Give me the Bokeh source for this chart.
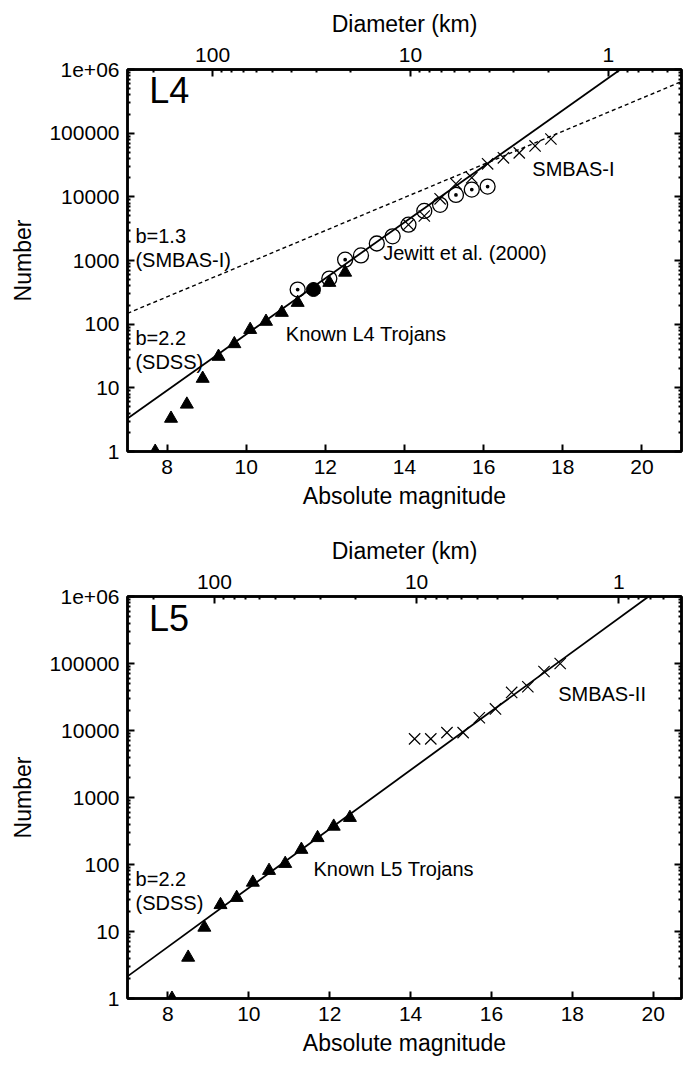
import numpy as np
from bokeh.plotting import figure
from bokeh.layouts import column
from bokeh.models import LinearAxis, LogAxis, FixedTicker, CustomJSTickFormatter, Range1d
from bokeh.core.properties import value
from bokeh.embed import file_html
from bokeh.resources import INLINE

# ---------------- data ----------------
# L4 panel
l4_known_H = [7.7, 8.1, 8.5, 8.9, 9.3, 9.7, 10.1, 10.5, 10.9, 11.3, 11.7, 12.1, 12.5]
l4_known_N = [1, 3.3, 5.5, 14, 31, 49, 82, 110, 152, 218, 350, 450, 650]
# Jewitt et al. (2000): plain open circles, dotted circles, and one filled point
jewitt_open_H = [12.1, 12.9, 13.3, 13.7, 14.1, 14.5, 14.9]
jewitt_open_N = [520, 1200, 1850, 2400, 3650, 6000, 7500]
jewitt_dot_H = [11.3, 12.5, 15.3, 15.7, 16.1]
jewitt_dot_N = [350, 1030, 10700, 13000, 14500]
jewitt_filled_H = [11.7]
jewitt_filled_N = [350]
smbas1_H = [14.1, 14.5, 14.9, 15.3, 15.7, 16.1, 16.5, 16.9, 17.3, 17.7]
smbas1_N = [3650, 5000, 9300, 16000, 20000, 33000, 41000, 49000, 63000, 81000]
# L5 panel
l5_known_H = [8.1, 8.5, 8.9, 9.3, 9.7, 10.1, 10.5, 10.9, 11.3, 11.7, 12.1, 12.5]
l5_known_N = [1, 4.1, 11.5, 25, 32, 54, 81, 103, 167, 250, 370, 500]
smbas2_H = [14.1, 14.5, 14.9, 15.3, 15.7, 16.1, 16.5, 16.9, 17.3, 17.7]
smbas2_N = [7500, 7500, 9300, 9300, 15500, 21000, 37000, 45000, 76000, 100000]

# power-law fits: slope b, and log10(N) at H = 7
l4_sdss_b, l4_sdss_logN7 = 2.2, 0.52
l4_smbas_b, l4_smbas_logN7 = 1.3, 2.17
l5_sdss_b, l5_sdss_logN7 = 2.2, 0.33

# axes
x_ticks = [8, 10, 12, 14, 16, 18, 20]
y_major = [1, 10, 100, 1000, 10000, 100000, 1000000]
diam_major_km = [100, 10, 1]
diam_minor_km = [200, 90, 80, 70, 60, 50, 40, 30, 20, 9, 8, 7, 6, 5, 4, 3, 2,
                 0.9, 0.8, 0.7, 0.6, 0.5]
H_at_1km = 19.15

FONT = "Liberation Sans"
TICK_FS = "21px"
LABEL_FS = "23px"
ANN_FS = "20px"


def H_of_D(d):
    return H_at_1km - 5 * np.log10(d)


def fit_line(b, logN7, xmax):
    slope = b / 5.0
    h_end = min(xmax, 7 + (6 - logN7) / slope)
    hs = [7.0, h_end]
    ns = [10 ** (logN7 + slope * (h - 7)) for h in hs]
    return hs, ns


def style_axis(ax):
    ax.axis_line_width = 2.5
    ax.axis_line_color = "black"
    ax.major_tick_in = 7
    ax.major_tick_out = 0
    ax.minor_tick_in = 3
    ax.minor_tick_out = 0
    ax.major_tick_line_width = 2
    ax.minor_tick_line_width = 2
    ax.major_label_text_font = FONT
    ax.major_label_text_font_size = TICK_FS
    ax.major_label_text_color = "black"
    ax.axis_label_text_font = FONT
    ax.axis_label_text_font_size = LABEL_FS
    ax.axis_label_text_font_style = "normal"
    ax.axis_label_text_color = "black"


def make_panel(height, xmax, bl, br, bt, bb):
    p = figure(width=691, height=height, x_range=Range1d(7, xmax), y_range=Range1d(1, 1e6),
               y_axis_type="log", output_backend="svg", toolbar_location=None,
               min_border_left=bl, min_border_right=br, min_border_top=bt, min_border_bottom=bb)
    p.xgrid.visible = False
    p.ygrid.visible = False
    p.outline_line_color = "black"
    p.outline_line_width = 2.5
    p.background_fill_color = "white"
    p.border_fill_color = "white"

    y_minor = [k * 10 ** e for e in range(6) for k in range(2, 10)]
    yfmt = CustomJSTickFormatter(code="""
        const v = Math.round(tick);
        return v >= 1000000 ? "1e+06" : String(v);
    """)
    yax = p.yaxis[0]
    yax.ticker = FixedTicker(ticks=y_major, minor_ticks=y_minor)
    yax.formatter = yfmt
    yax.axis_label = "Number"
    yax.major_label_standoff = 8
    yax.axis_label_standoff = 10
    style_axis(yax)

    xax = p.xaxis[0]
    xax.ticker = FixedTicker(ticks=x_ticks, minor_ticks=[])
    xax.axis_label = "Absolute magnitude"
    xax.major_label_standoff = 8
    xax.axis_label_standoff = 6
    style_axis(xax)

    rax = LogAxis(ticker=FixedTicker(ticks=y_major, minor_ticks=y_minor))
    style_axis(rax)
    rax.major_label_text_font_size = "1px"
    rax.major_label_text_alpha = 0
    rax.major_label_standoff = 0
    p.add_layout(rax, "right")

    minors = [H_of_D(d) for d in diam_minor_km if 7.05 <= H_of_D(d) <= xmax - 0.05]
    tax = LinearAxis(ticker=FixedTicker(ticks=[H_of_D(d) for d in diam_major_km], minor_ticks=minors),
                     formatter=CustomJSTickFormatter(args=dict(h1=H_at_1km), code="""
                         const d = Math.pow(10, (h1 - tick) / 5);
                         return String(Math.round(d));
                     """),
                     axis_label="Diameter (km)")
    style_axis(tax)
    tax.major_label_standoff = 8
    tax.axis_label_standoff = 8
    p.add_layout(tax, "above")
    return p


def add_text(p, xs, logys, texts, size=ANN_FS, baseline="middle"):
    p.text(x=xs, y=[10 ** v for v in logys], text=texts, text_font=value(FONT),
           text_font_size=size, text_baseline=baseline, text_align="left", text_color="black")


# ---------------- top panel (L4) ----------------
p1 = make_panel(530, 21, 127, 10, 69, 79)
h, n = fit_line(l4_smbas_b, l4_smbas_logN7, 21)
p1.line(h, n, line_color="black", line_width=1.4, line_dash="4 3")
h, n = fit_line(l4_sdss_b, l4_sdss_logN7, 21)
p1.line(h, n, line_color="black", line_width=1.8)
p1.scatter(jewitt_open_H, jewitt_open_N, marker="circle", size=15, fill_color=None,
           line_color="black", line_width=1.3)
p1.scatter(jewitt_dot_H, jewitt_dot_N, marker="circle_dot", size=15, fill_color=None,
           line_color="black", line_width=1.3)
p1.scatter(smbas1_H, smbas1_N, marker="x", size=16, line_color="black", line_width=1.2)
p1.scatter(l4_known_H, l4_known_N, marker="triangle", size=13, fill_color="black",
           line_color="black")
p1.scatter(jewitt_filled_H, jewitt_filled_N, marker="circle", size=14, fill_color="black",
           line_color="black")
add_text(p1, [7.55], [5.35], ["L4"], size="36px", baseline="bottom")
add_text(p1, [7.2, 7.2, 7.2, 7.2], [3.39, 3.01, 1.79, 1.41],
         ["b=1.3", "(SMBAS-I)", "b=2.2", "(SDSS)"])
add_text(p1, [11.0, 13.46, 17.23], [1.85, 3.11, 4.44],
         ["Known L4 Trojans", "Jewitt et al. (2000)", "SMBAS-I"])

# ---------------- bottom panel (L5) ----------------
p2 = make_panel(537, 20.7, 123, 6, 66, 69)
h, n = fit_line(l5_sdss_b, l5_sdss_logN7, 20.7)
p2.line(h, n, line_color="black", line_width=1.8)
p2.scatter(smbas2_H, smbas2_N, marker="x", size=16, line_color="black", line_width=1.2)
p2.scatter(l5_known_H, l5_known_N, marker="triangle", size=13, fill_color="black",
           line_color="black")
add_text(p2, [7.53], [5.36], ["L5"], size="36px", baseline="bottom")
add_text(p2, [7.2, 7.2], [1.79, 1.42], ["b=2.2", "(SDSS)"])
add_text(p2, [11.6, 17.65], [1.94, 4.55], ["Known L5 Trojans", "SMBAS-II"])

layout = column(p1, p2)
open("out.html", "w").write(file_html(layout, INLINE))
